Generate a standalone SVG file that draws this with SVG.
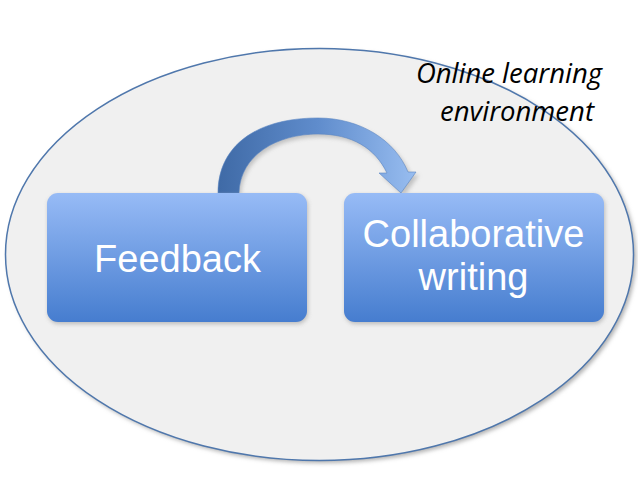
<svg xmlns="http://www.w3.org/2000/svg" width="638" height="479" viewBox="0 0 638 479">
<defs>
<linearGradient id="boxg" x1="0" y1="0" x2="0" y2="1">
<stop offset="0" stop-color="#97bbf6"/>
<stop offset="1" stop-color="#467dcf"/>
</linearGradient>
<linearGradient id="arrg" x1="0" y1="0" x2="1" y2="0">
<stop offset="0" stop-color="#3f6aa6"/>
<stop offset="0.5" stop-color="#5f8ccc"/>
<stop offset="1" stop-color="#98bdf0"/>
</linearGradient>
<filter id="sh" x="-10%" y="-10%" width="130%" height="130%">
<feGaussianBlur stdDeviation="2"/>
</filter>
</defs>
<style>
.box{fill:url(#boxg);}
.boxsh{fill:#9a9a9a;opacity:0.6;}
.lbl{font-family:"Liberation Sans",Arial,sans-serif;fill:#ffffff;text-anchor:middle;font-size:38px;}
.env{font-family:"Open Sans","Noto Sans",sans-serif;font-style:italic;fill:#000000;text-anchor:middle;font-size:27.5px;}
</style>
<rect width="638" height="479" fill="#ffffff"/>
<g id="environment">
<ellipse cx="322" cy="257" rx="314" ry="206" fill="#b0b0b0" filter="url(#sh)"/>
<ellipse cx="319.5" cy="254.5" rx="314" ry="206" fill="#f0f0f0" stroke="#4f77ac" stroke-width="1.5"/>
<text class="env"><tspan x="509" y="83">Online learning</tspan><tspan x="517" y="121">environment</tspan></text>
</g>
<g id="connectors">
<path d="M220,195 C220,148 258,121 320,121 C362,121 397,143 411,175 L419,175 L404,196 L382,176 L390,176 C378,151 355,137 320,137 C279,137 242,158 241,195 Z" fill="#9a9a9a" opacity="0.55" filter="url(#sh)"/>
<path d="M218,193 C218,146 256,118 318,118 C360,118 395,140 408,172 L416,172 L401,193 L379,173 L387,173 C375,148 352,134 318,134 C277,134 240,155 239,193 Z" fill="url(#arrg)" stroke="#5a86c4" stroke-width="0.6"/>
</g>
<g id="feedback">
<rect class="boxsh" x="48" y="195" width="260" height="129" rx="11" filter="url(#sh)"/>
<rect class="box" x="47" y="193" width="260" height="129" rx="11"/>
<text class="lbl" x="177.5" y="272">Feedback</text>
</g>
<g id="collaborative-writing">
<rect class="boxsh" x="345" y="195" width="260" height="129" rx="11" filter="url(#sh)"/>
<rect class="box" x="344" y="193" width="260" height="129" rx="11"/>
<text class="lbl"><tspan x="473.5" y="247">Collaborative</tspan><tspan x="473.5" y="290">writing</tspan></text>
</g>
</svg>
